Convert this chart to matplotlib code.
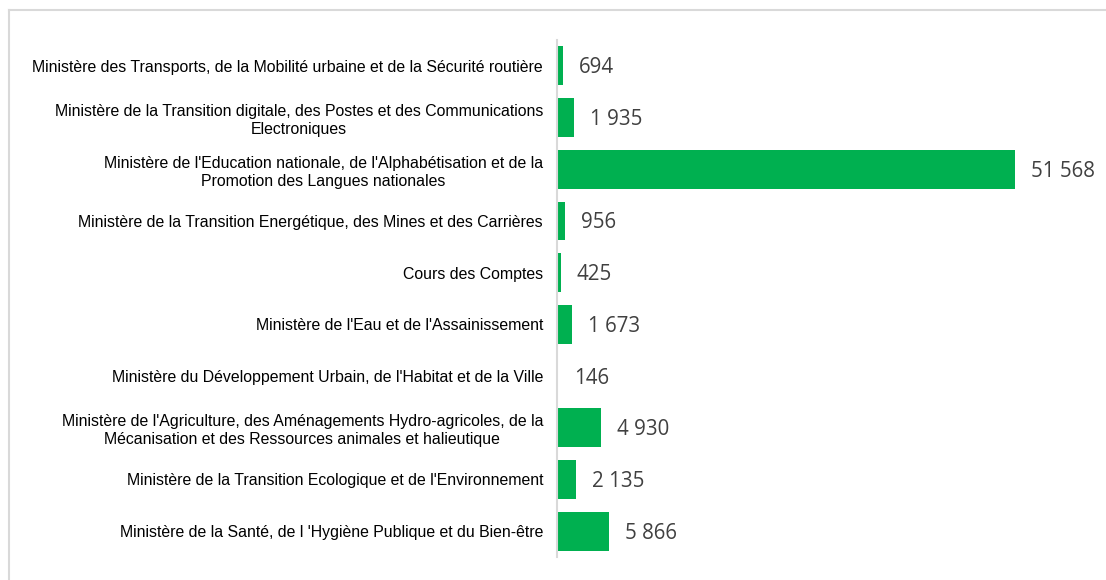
import matplotlib
matplotlib.use("Agg")
import matplotlib.pyplot as plt
from matplotlib.lines import Line2D

categories = [
    "Ministère des Transports, de la Mobilité urbaine et de la Sécurité routière",
    "Ministère de la Transition digitale, des Postes et des Communications\nElectroniques",
    "Ministère de l'Education nationale, de l'Alphabétisation et de la\nPromotion des Langues nationales",
    "Ministère de la Transition Energétique, des Mines et des Carrières",
    "Cours des Comptes",
    "Ministère de l'Eau et de l'Assainissement",
    "Ministère du Développement Urbain, de l'Habitat et de la Ville",
    "Ministère de l'Agriculture, des Aménagements Hydro-agricoles, de la\nMécanisation et des Ressources animales et halieutique",
    "Ministère de la Transition Ecologique et de l'Environnement",
    "Ministère de la Santé, de l 'Hygiène Publique et du Bien-être",
]
values = [694, 1935, 51568, 956, 425, 1673, 146, 4930, 2135, 5866]
value_labels = ["694", "1 935", "51 568", "956", "425", "1 673", "146", "4 930", "2 135", "5 866"]

W, H = 1106, 580
fig = plt.figure(figsize=(W / 100, H / 100), dpi=100)
ax = fig.add_axes([557 / W, 1 - 557 / H, (1090 - 557) / W, (557 - 40) / H])

pos = list(range(len(categories)))
ax.barh(pos, values, height=0.75, color="#00B050")
ax.set_ylim(len(categories) - 0.5, -0.5)
ax.set_xlim(0, 60000)

for p, v, lab in zip(pos, values, value_labels):
    ax.annotate(lab, (v, p), xytext=(16, -2), textcoords="offset pixels",
                ha="left", va="center", fontsize=14.8, color="#404040",
                family="Open Sans")

ax.set_yticks(pos)
ax.set_yticklabels(categories, fontsize=11.4, family="Liberation Sans",
                   color="#000000", multialignment="center", linespacing=1.25)
ax.tick_params(axis="y", length=0, pad=10)
ax.set_xticks([])
for s in ["top", "right", "bottom"]:
    ax.spines[s].set_visible(False)
ax.spines["left"].set_color("#d9d9d9")
ax.spines["left"].set_linewidth(1.5)

# outer border (partially cropped)
fig.add_artist(Line2D([9 / W, 1.0], [1 - 10 / H, 1 - 10 / H], color="#d9d9d9", lw=1.5,
                      transform=fig.transFigure))
fig.add_artist(Line2D([9 / W, 9 / W], [0.0, 1 - 10 / H], color="#d9d9d9", lw=1.5,
                      transform=fig.transFigure))

fig.savefig("out.png", dpi=100)
